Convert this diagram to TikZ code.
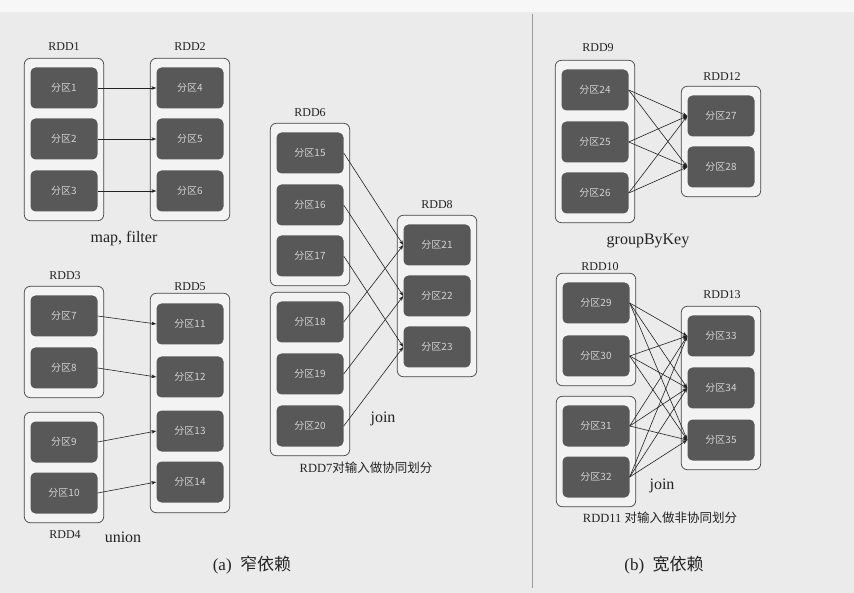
\documentclass[tikz,border=0pt]{standalone}
\usepackage{fontspec}
\setmainfont{Liberation Serif}
\newfontfamily\cjk{Noto Sans CJK SC}
\usetikzlibrary{arrows.meta,fit}
\definecolor{bg}{HTML}{EBEBEB}
\definecolor{topband}{HTML}{F7F7F7}
\definecolor{partfill}{HTML}{585858}
\definecolor{parttext}{HTML}{D2D2D2}
\definecolor{boxfill}{HTML}{F3F3F3}
\definecolor{boxline}{HTML}{444444}
\definecolor{ink}{HTML}{222222}
\definecolor{divline}{HTML}{9A9A9A}
\pgfdeclarelayer{bottom}
\pgfdeclarelayer{mid}
\pgfsetlayers{bottom,mid,main}
\begin{document}
\begin{tikzpicture}[x=1pt,y=-1pt,
  part/.style={fill=partfill, rounded corners=5pt, minimum width=67pt, minimum height=41pt,
    inner sep=0pt, text=parttext, font=\cjk\fontsize{10}{12}\selectfont},
  rdd/.style={draw=boxline, fill=boxfill, rounded corners=6pt, inner xsep=6pt, inner ysep=9pt, line width=0.7pt},
  lab/.style={font=\fontsize{12}{14}\selectfont, text=ink, inner sep=0pt},
  op/.style={font=\fontsize{16}{18}\selectfont, text=ink, inner sep=0pt},
  note/.style={font=\fontsize{12.5}{14}\selectfont, text=ink, inner sep=0pt},
  captext/.style={font=\fontsize{17}{20}\selectfont, text=ink, inner sep=0pt},
  dep/.style={-{Stealth[length=5pt,width=3.6pt]}, draw=ink, line width=0.6pt}]
\begin{pgfonlayer}{bottom}
  \fill[bg] (0,0) rectangle (854,593);
  \fill[topband] (0,0) rectangle (854,12);
  \coordinate (dtop) at (532,14);
  \coordinate (dbot) at (532,588);
  \draw[divline, line width=0.6pt] (dtop) -- (dbot);
\end{pgfonlayer}

% ---------- partitions ----------
\foreach \n/\x/\y in {1/64/88, 2/64/139, 3/64/191,
                      4/190/88, 5/190/139, 6/190/191,
                      7/64/316, 8/64/368, 9/64/442, 10/64/493,
                      11/190/324, 12/190/377, 13/190/431, 14/190/482,
                      15/310/153, 16/310/205, 17/310/256,
                      18/310/322, 19/310/374, 20/310/426,
                      21/437/245, 22/437/296, 23/437/347,
                      24/595/90, 25/595/142, 26/595/193,
                      27/721/116, 28/721/167,
                      29/596/303, 30/596/356, 31/596/426, 32/596/477,
                      33/721/336, 34/721/388, 35/721/440}
  \node[part] (p\n) at (\x,\y) {分区\n};

% ---------- RDD containers ----------
\begin{pgfonlayer}{mid}
  \node[rdd, fit=(p1)(p3)] (rdd1) {};
  \node[rdd, fit=(p4)(p6)] (rdd2) {};
  \node[rdd, fit=(p7)(p8)] (rdd3) {};
  \node[rdd, fit=(p9)(p10)] (rdd4) {};
  \node[rdd, fit=(p11)(p14), inner ysep=10pt] (rdd5) {};
  \node[rdd, fit=(p15)(p17)] (rdd6) {};
  \node[rdd, fit=(p18)(p20)] (rdd7) {};
  \node[rdd, fit=(p21)(p23)] (rdd8) {};
  \node[rdd, fit=(p24)(p26)] (rdd9) {};
  \node[rdd, fit=(p27)(p28)] (rdd12) {};
  \node[rdd, fit=(p29)(p30)] (rdd10) {};
  \node[rdd, fit=(p31)(p32)] (rdd11) {};
  \node[rdd, fit=(p33)(p35)] (rdd13) {};
\end{pgfonlayer}

% ---------- labels ----------
\node[lab] (l1) at (64,47) {RDD1};
\node[lab] (l2) at (190,47) {RDD2};
\node[lab] (l3) at (65,276) {RDD3};
\node[lab] (l5) at (190,287) {RDD5};
\node[lab] (l4) at (65,535) {RDD4};
\node[lab] (l6) at (310,113) {RDD6};
\node[lab] (l8) at (437,205) {RDD8};
\node[lab] (l9) at (598,48) {RDD9};
\node[lab] (l12) at (722,77) {RDD12};
\node[lab] (l10) at (600,267) {RDD10};
\node[lab] (l13) at (722,295) {RDD13};

\node[op] (o1) at (124,239) {map, filter};
\node[op] (o2) at (123,537) {union};
\node[op] (o3) at (383,419) {join};
\node[op] (o4) at (648,241) {groupByKey};
\node[op] (o5) at (662,486) {join};

\node[note] (n1) at (366,468) {RDD7{\cjk 对输入做协同划分}};
\node[note] (n2) at (660,518) {RDD11 {\cjk 对输入做非协同划分}};

\node[captext] (c1) at (252,565) {(a)\ \ {\cjk 窄依赖}};
\node[captext] (c2) at (664,565) {(b)\ \ {\cjk 宽依赖}};

% ---------- narrow dependencies ----------
\draw[dep] (p1.east) -- (p4.west);
\draw[dep] (p2.east) -- (p5.west);
\draw[dep] (p3.east) -- (p6.west);
\draw[dep] (p7.east) -- (p11.west);
\draw[dep] (p8.east) -- (p12.west);
\draw[dep] (p9.east) -- (p13.west);
\draw[dep] (p10.east) -- (p14.west);
\draw[dep] (p15.east) -- (p21.west);
\draw[dep] (p16.east) -- (p22.west);
\draw[dep] (p17.east) -- (p23.west);
\draw[dep] (p18.east) -- (p21.west);
\draw[dep] (p19.east) -- (p22.west);
\draw[dep] (p20.east) -- (p23.west);

% ---------- wide dependencies ----------
\foreach \s in {24,25,26}
  \foreach \t in {27,28}
    \draw[dep] (p\s.east) -- (p\t.west);
\foreach \s in {29,30,31,32}
  \foreach \t in {33,34,35}
    \draw[dep] (p\s.east) -- (p\t.west);
\end{tikzpicture}
\end{document}
